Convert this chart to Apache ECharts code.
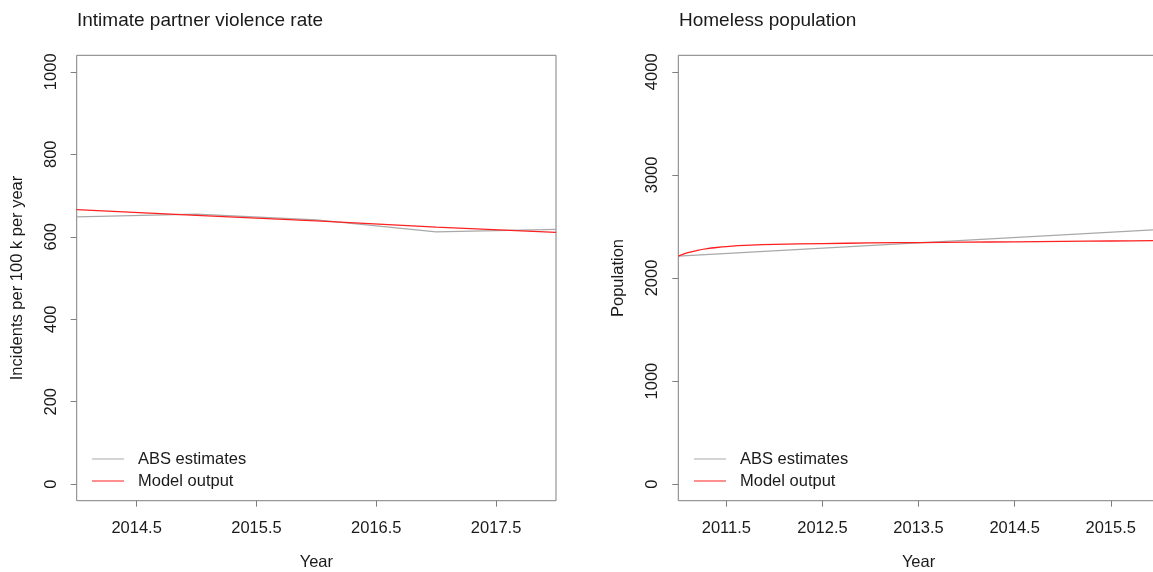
<!DOCTYPE html>
<html>
<head>
<meta charset="utf-8">
<title>Intimate partner violence rate and homeless population</title>
<script src="https://cdn.jsdelivr.net/npm/echarts@6/dist/echarts.min.js"></script>
<style>
  html, body { margin: 0; padding: 0; background: #ffffff; }
  #chart { width: 1153px; height: 572px; }
</style>
</head>
<body>
<div id="chart"></div>
<script>
// Intimate partner violence: ABS estimates and model output (incidents per 100 k per year)
const ipvYears = [2014, 2015, 2016, 2017, 2018];
const ipvAbs = [648, 655, 641, 612, 618];
const ipvModelYears = [2014, 2015, 2016, 2017, 2018];
const ipvModel = [666, 652, 638.5, 623.5, 610.5];
const ipvXTicks = [2014.5, 2015.5, 2016.5, 2017.5];
const ipvYTicks = [0, 200, 400, 600, 800, 1000];

// Homeless population: ABS census estimates and model output
const hpAbsYears = [2011, 2016];
const hpAbs = [2213, 2470];
const hpModelYears = [2011, 2011.1, 2011.2, 2011.3, 2011.4, 2011.5, 2011.75, 2012, 2012.5, 2013, 2013.5, 2014, 2014.5, 2015, 2015.5, 2016];
const hpModel = [2213, 2245, 2268, 2284, 2296, 2305, 2318, 2326, 2334, 2340, 2344, 2347, 2351, 2355, 2359, 2363];
const hpXTicks = [2011.5, 2012.5, 2013.5, 2014.5, 2015.5];
const hpYTicks = [0, 1000, 2000, 3000, 4000];

const absName = 'ABS estimates';
const modelName = 'Model output';

const FONT = '"Liberation Sans", Arial, sans-serif';
const TEXT = '#1a1a1a';
const FRAME = '#7f7f7f';
const GREY = '#a9a9a9';
const RED = '#ff2020';

const pairs = (xs, ys) => xs.map((x, i) => [x, ys[i]]);

function xAxisFor(gridIndex, min, max, ticks) {
  return {
    type: 'value', gridIndex, min, max, position: 'bottom',
    name: 'Year', nameLocation: 'middle', nameGap: 53,
    nameTextStyle: { fontFamily: FONT, fontSize: 16.5, color: TEXT },
    axisLine: { show: false, onZero: false },
    splitLine: { show: false },
    axisTick: { show: true, length: 6, lineStyle: { color: FRAME, width: 1 }, customValues: ticks },
    axisLabel: { margin: 19, fontFamily: FONT, fontSize: 16.5, color: TEXT, customValues: ticks, formatter: v => String(v) }
  };
}

function yAxisFor(gridIndex, min, max, ticks, name) {
  return {
    type: 'value', gridIndex, min, max, position: 'left',
    name, nameLocation: 'middle', nameGap: 51, nameRotate: 90,
    nameTextStyle: { fontFamily: FONT, fontSize: 16.5, color: TEXT },
    axisLine: { show: false, onZero: false },
    splitLine: { show: false },
    axisTick: { show: true, length: 6, lineStyle: { color: FRAME, width: 1 }, customValues: ticks },
    axisLabel: { rotate: 90, margin: 17, fontFamily: FONT, fontSize: 16.5, color: TEXT, customValues: ticks, formatter: v => String(v) }
  };
}

function lineSeries(name, data, color, xi, smooth) {
  return {
    type: 'line', name, data, xAxisIndex: xi, yAxisIndex: xi,
    symbol: 'none', smooth: smooth || false, silent: true, animation: false,
    lineStyle: { color, width: 1.3 }, itemStyle: { color }
  };
}

function legendAt(left) {
  return {
    left, top: 450, orient: 'vertical', padding: 0,
    itemWidth: 32, itemHeight: 14, itemGap: 4, selectedMode: false,
    icon: 'path://M0,6.5 L32,6.5 L32,7.5 L0,7.5 Z',
    data: [
      { name: absName, itemStyle: { color: GREY } },
      { name: modelName, itemStyle: { color: RED } }
    ],
    textStyle: { fontFamily: FONT, fontSize: 16.5, color: TEXT, lineHeight: 18, padding: [0, 0, 0, 9] }
  };
}

const gridBase = {
  top: 55.3, height: 445.4, show: true, borderColor: FRAME, borderWidth: 1,
  backgroundColor: 'transparent', containLabel: false, outerBoundsMode: 'none'
};

const chart = echarts.init(document.getElementById('chart'), null, { renderer: 'canvas' });
chart.setOption({
  backgroundColor: '#ffffff',
  animation: false,
  title: [
    { text: 'Intimate partner violence rate', left: 77, top: 11, padding: 0,
      textStyle: { fontFamily: FONT, fontSize: 19, fontWeight: 'normal', color: TEXT } },
    { text: 'Homeless population', left: 679, top: 11, padding: 0,
      textStyle: { fontFamily: FONT, fontSize: 19, fontWeight: 'normal', color: TEXT } }
  ],
  legend: [legendAt(92), legendAt(694)],
  grid: [
    Object.assign({ left: 76.7, width: 479.3 }, gridBase),
    Object.assign({ left: 678.3, width: 480.5 }, gridBase)
  ],
  xAxis: [
    xAxisFor(0, 2014, 2018, ipvXTicks),
    xAxisFor(1, 2011, 2016, hpXTicks)
  ],
  yAxis: [
    yAxisFor(0, -40, 1040, ipvYTicks, 'Incidents per 100 k per year'),
    yAxisFor(1, -160, 4160, hpYTicks, 'Population')
  ],
  series: [
    lineSeries(absName, pairs(ipvYears, ipvAbs), GREY, 0),
    lineSeries(modelName, pairs(ipvModelYears, ipvModel), RED, 0),
    lineSeries(absName, pairs(hpAbsYears, hpAbs), GREY, 1),
    lineSeries(modelName, pairs(hpModelYears, hpModel), RED, 1, 0.3)
  ]
});
</script>
</body>
</html>
